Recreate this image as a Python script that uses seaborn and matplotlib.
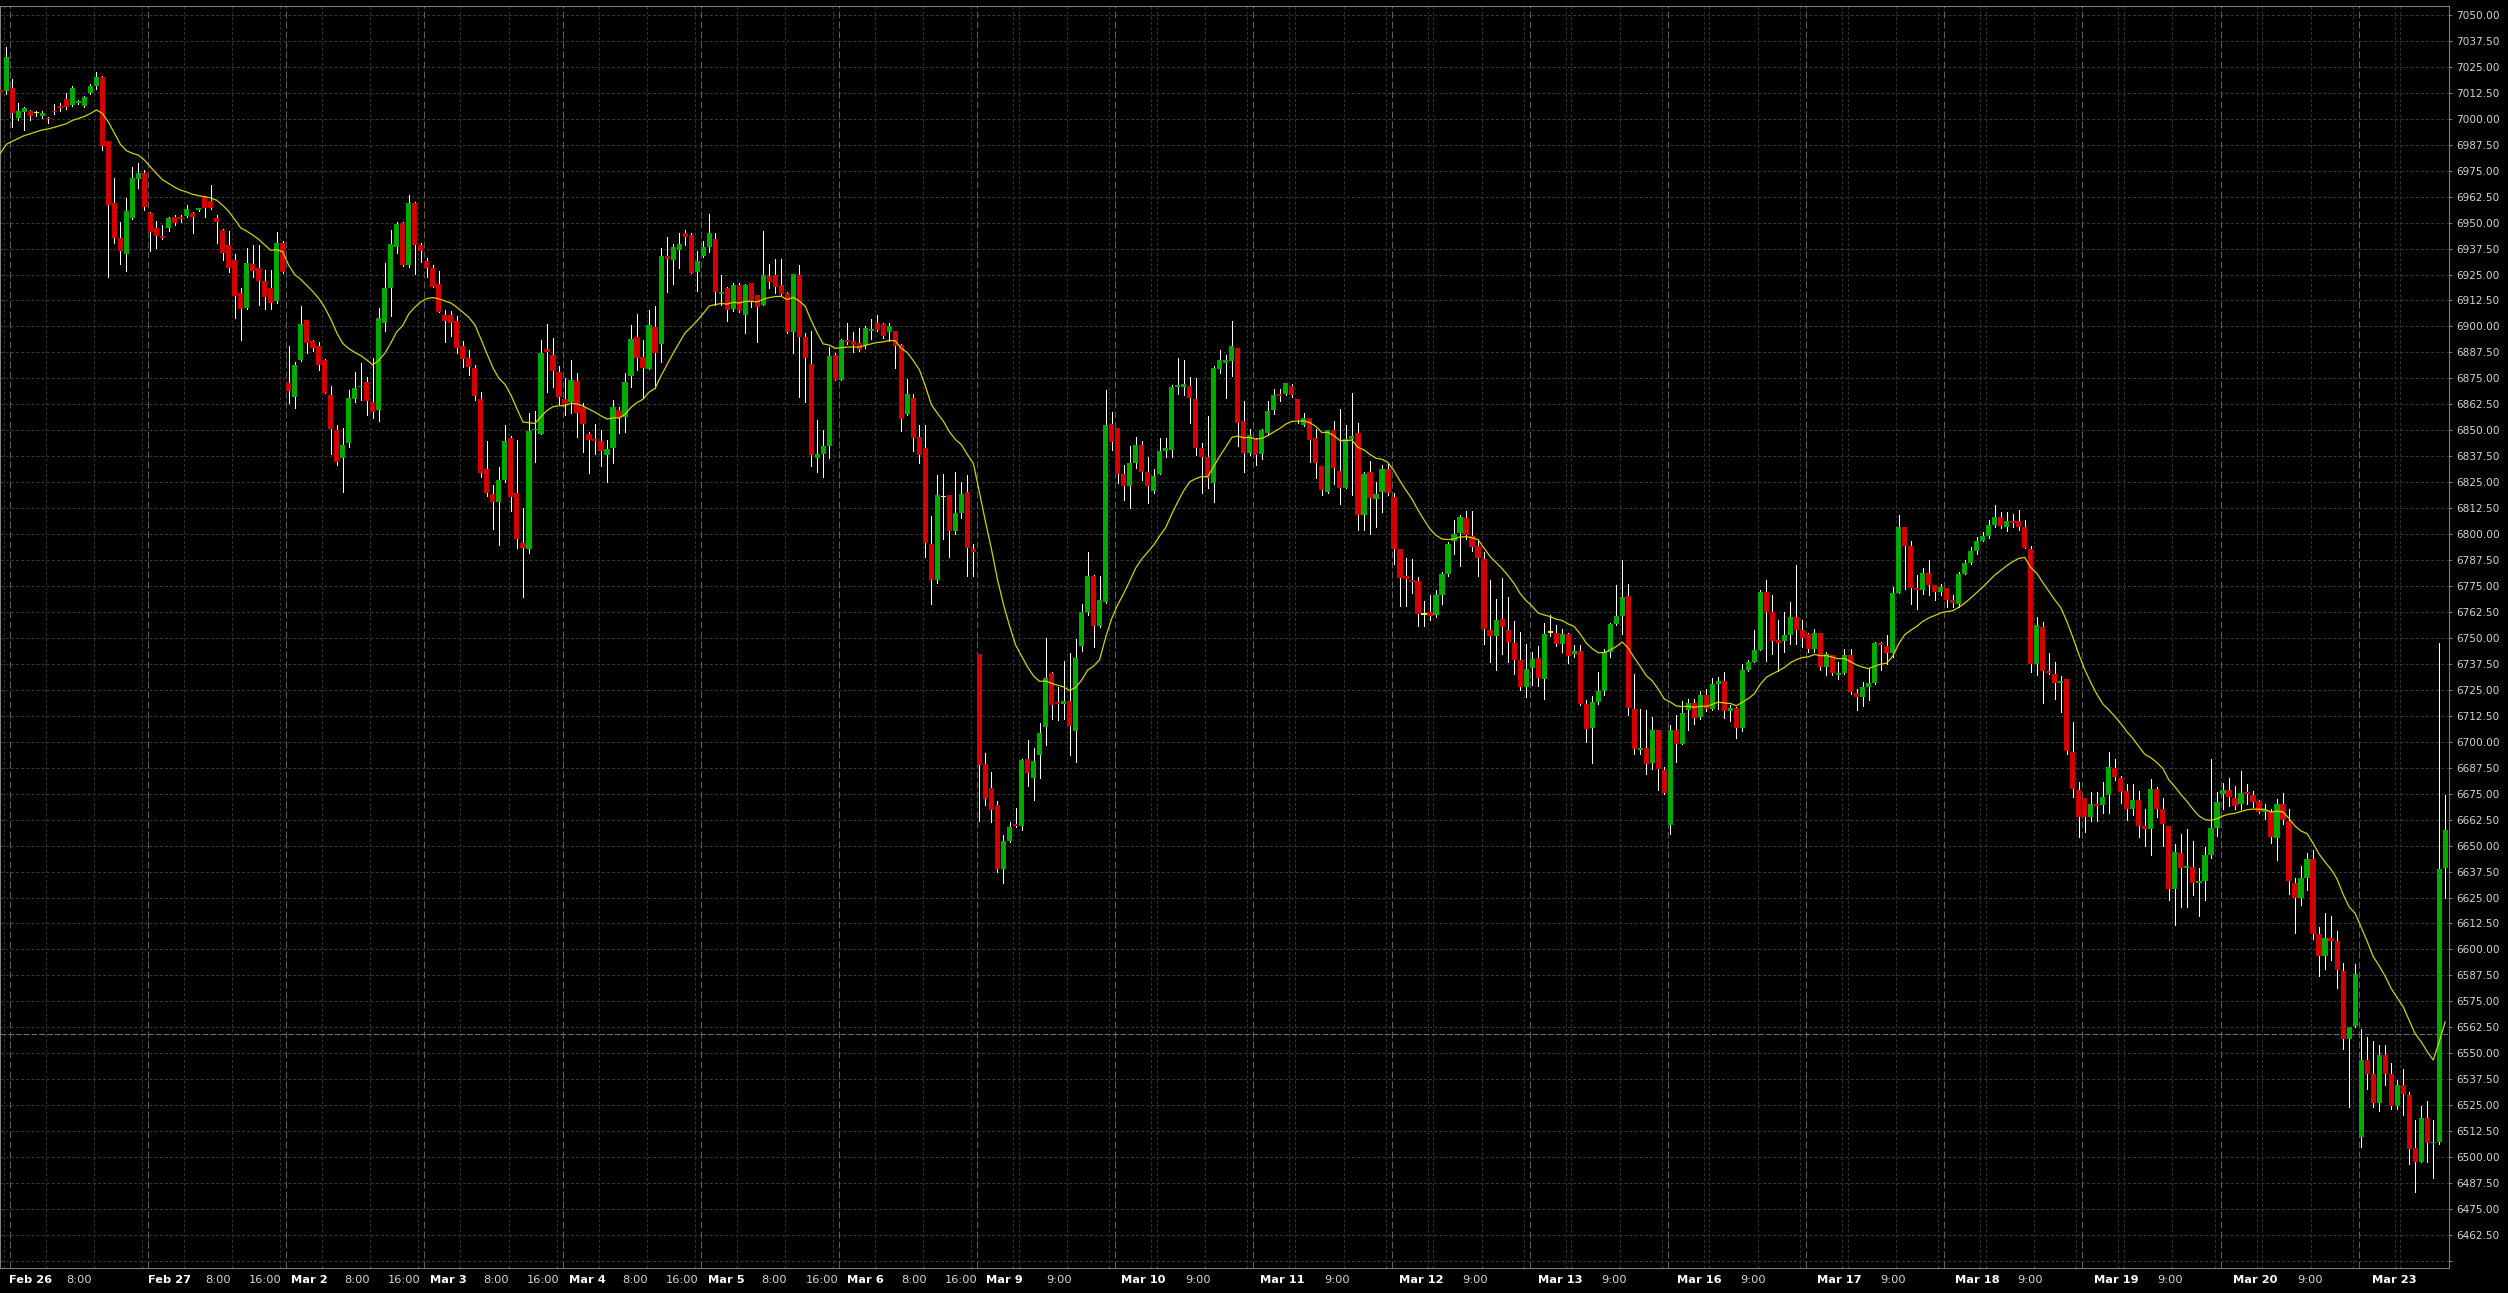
import numpy as np
import pandas as pd
import matplotlib
matplotlib.use("Agg")
import matplotlib.pyplot as plt
from matplotlib.transforms import blended_transform_factory
import seaborn as sns

# ---------------- data (hourly OHLC) ----------------
opens = [
    7013.5, 7013.3, 7015.0, 7000.4, 7003.1, 7003.5, 7003.0, 7001.2, 7000.5, 7003.8,
    7005.9, 7009.3, 7006.6, 7007.6, 7006.0, 7012.4, 7016.0, 7020.3, 6989.5, 6959.3,
    6942.8, 6934.7, 6952.2, 6970.8, 6974.1, 6954.5, 6947.6, 6943.5, 6947.4, 6952.9,
    6952.5, 6953.1, 6954.5, 6956.0, 6962.7, 6960.5, 6952.0, 6946.5, 6939.0, 6931.8,
    6915.9, 6908.9, 6929.9, 6928.0, 6921.8, 6918.7, 6912.2, 6940.4, 6873.0, 6865.9,
    6884.0, 6902.9, 6893.2, 6890.8, 6884.0, 6867.1, 6849.9, 6836.7, 6843.9, 6864.9,
    6870.7, 6873.3, 6863.7, 6859.9, 6901.7, 6918.7, 6938.1, 6950.0, 6929.5, 6959.6,
    6939.1, 6931.4, 6928.0, 6920.3, 6905.5, 6905.5, 6902.6, 6890.6, 6884.8, 6880.0,
    6865.1, 6831.4, 6819.4, 6815.5, 6826.1, 6846.5, 6820.0, 6795.9, 6792.9, 6849.9,
    6848.3, 6889.2, 6886.3, 6878.1, 6865.1, 6863.8, 6873.8, 6861.3, 6848.3, 6845.8,
    6844.9, 6838.1, 6841.7, 6859.8, 6856.3, 6876.3, 6895.1, 6885.2, 6879.7, 6899.9,
    6891.6, 6933.9, 6932.0, 6936.8, 6944.8, 6944.0, 6926.1, 6934.1, 6938.4, 6942.1,
    6915.6, 6918.7, 6908.3, 6919.8, 6905.5, 6920.8, 6915.2, 6910.4, 6924.3, 6924.8,
    6920.0, 6916.0, 6897.5, 6924.8, 6894.8, 6881.9, 6836.5, 6838.5, 6842.6, 6886.1,
    6874.4, 6893.4, 6892.9, 6891.8, 6891.2, 6897.8, 6901.5, 6901.1, 6897.1, 6897.6,
    6891.2, 6858.0, 6865.5, 6846.7, 6841.4, 6795.2, 6777.7, 6818.0, 6818.6, 6801.4,
    6810.0, 6820.2, 6792.8, 6742.4, 6689.3, 6677.8, 6669.4, 6638.9, 6652.2, 6660.6,
    6659.5, 6691.5, 6682.7, 6693.7, 6707.0, 6733.1, 6719.2, 6718.1, 6719.8, 6705.2,
    6746.3, 6762.7, 6780.0, 6755.6, 6767.4, 6852.9, 6851.1, 6829.0, 6823.1, 6834.1,
    6843.0, 6829.7, 6820.9, 6829.0, 6840.1, 6840.7, 6870.6, 6871.0, 6871.3, 6865.1,
    6841.4, 6837.0, 6824.6, 6879.4, 6882.3, 6883.4, 6889.4, 6854.7, 6839.0, 6845.9,
    6838.7, 6848.7, 6859.9, 6867.3, 6867.6, 6871.1, 6865.2, 6852.3, 6856.0, 6846.2,
    6832.6, 6820.3, 6849.9, 6830.4, 6822.2, 6846.0, 6848.8, 6809.0, 6830.0, 6816.7,
    6820.3, 6831.2, 6817.8, 6792.7, 6779.7, 6778.1, 6777.3, 6761.4, 6762.5, 6760.9,
    6770.5, 6780.6, 6796.7, 6800.7, 6807.9, 6799.1, 6794.1, 6788.2, 6754.0, 6750.9,
    6759.3, 6753.7, 6747.7, 6739.2, 6726.4, 6735.5, 6740.4, 6730.4, 6752.9, 6752.5,
    6747.2, 6752.1, 6742.4, 6743.6, 6718.0, 6706.6, 6719.2, 6724.3, 6743.2, 6756.9,
    6760.4, 6770.0, 6715.9, 6696.0, 6697.0, 6689.7, 6705.5, 6686.5, 6659.7, 6705.5,
    6699.1, 6715.1, 6718.8, 6711.9, 6722.3, 6715.9, 6727.6, 6729.1, 6714.8, 6716.4,
    6706.8, 6734.8, 6738.4, 6744.3, 6772.1, 6762.4, 6748.8, 6748.3, 6751.2, 6760.0,
    6753.9, 6751.7, 6744.5, 6752.3, 6736.0, 6741.6, 6732.3, 6733.1, 6741.6, 6723.4,
    6721.5, 6726.3, 6728.2, 6747.5, 6746.1, 6742.7, 6771.6, 6803.4, 6794.5, 6774.0,
    6773.3, 6781.2, 6775.3, 6772.1, 6774.2, 6768.4, 6766.2, 6780.9, 6786.0, 6792.1,
    6796.9, 6799.3, 6804.6, 6808.2, 6803.4, 6806.2, 6806.2, 6803.4, 6792.9, 6737.6,
    6755.5, 6734.0, 6732.8, 6728.1, 6730.4, 6695.0, 6676.9, 6673.1, 6664.0, 6670.2,
    6669.7, 6674.2, 6687.2, 6682.4, 6676.2, 6667.6, 6672.0, 6659.2, 6658.1, 6677.3,
    6667.6, 6659.6, 6629.3, 6646.4, 6639.3, 6639.7, 6632.2, 6633.0, 6645.5, 6658.7,
    6674.7, 6676.9, 6672.9, 6669.8, 6675.8, 6674.6, 6671.3, 6666.3, 6666.3, 6653.6,
    6670.2, 6661.8, 6632.2, 6624.9, 6634.4, 6643.7, 6607.2, 6596.8, 6605.7, 6603.9,
    6589.5, 6557.0, 6563.0, 6509.9, 6546.9, 6539.8, 6526.1, 6549.3, 6540.2, 6524.8,
    6534.9, 6529.8, 6504.4, 6497.8, 6518.8, 6506.6, 6507.1, 6639.3,
]
highs = [
    7018.0, 7034.7, 7019.0, 7007.4, 7005.5, 7004.0, 7003.5, 7003.5, 7001.0, 7006.9,
    7007.4, 7012.4, 7016.0, 7009.0, 7011.0, 7016.5, 7022.7, 7020.5, 6989.5, 6971.3,
    6950.5, 6961.7, 6977.0, 6978.5, 6975.1, 6955.0, 6950.8, 6949.0, 6952.5, 6953.6,
    6953.6, 6958.6, 6955.0, 6957.2, 6963.0, 6967.9, 6953.6, 6947.0, 6946.0, 6934.7,
    6918.7, 6937.8, 6939.0, 6939.0, 6927.0, 6927.0, 6945.7, 6941.0, 6890.5, 6883.1,
    6909.7, 6903.0, 6893.7, 6892.5, 6884.5, 6871.1, 6852.5, 6851.1, 6869.3, 6877.9,
    6882.6, 6875.7, 6885.0, 6908.9, 6930.4, 6946.2, 6950.2, 6950.5, 6963.1, 6960.0,
    6940.0, 6932.8, 6929.6, 6926.7, 6907.9, 6907.5, 6905.1, 6892.9, 6888.7, 6881.5,
    6868.5, 6844.9, 6823.7, 6832.5, 6852.6, 6847.0, 6845.4, 6812.8, 6858.2, 6859.3,
    6893.5, 6901.2, 6894.6, 6881.0, 6875.0, 6883.9, 6877.5, 6863.0, 6849.4, 6852.9,
    6850.2, 6845.4, 6864.6, 6861.3, 6877.5, 6900.7, 6906.0, 6893.5, 6907.9, 6909.9,
    6937.6, 6943.2, 6939.7, 6944.8, 6946.5, 6945.2, 6936.5, 6941.2, 6954.0, 6944.8,
    6924.8, 6919.2, 6920.8, 6920.8, 6920.5, 6920.8, 6915.2, 6946.0, 6929.9, 6932.3,
    6932.5, 6916.8, 6925.1, 6929.6, 6896.7, 6897.8, 6855.0, 6849.9, 6890.3, 6887.2,
    6893.8, 6901.5, 6897.1, 6899.3, 6900.4, 6903.8, 6905.3, 6901.5, 6901.5, 6897.8,
    6891.5, 6874.6, 6867.7, 6852.5, 6852.5, 6808.7, 6828.6, 6829.0, 6818.8, 6830.1,
    6825.3, 6828.6, 6795.4, 6742.5, 6694.8, 6685.6, 6671.6, 6655.0, 6661.2, 6668.3,
    6691.5, 6700.8, 6697.0, 6708.8, 6750.1, 6733.5, 6726.5, 6739.0, 6742.8, 6749.4,
    6766.2, 6791.5, 6780.2, 6780.0, 6869.5, 6858.9, 6851.3, 6833.5, 6842.3, 6846.7,
    6844.6, 6837.0, 6831.2, 6846.3, 6846.3, 6871.7, 6885.0, 6883.9, 6875.7, 6875.0,
    6844.1, 6856.7, 6881.0, 6888.7, 6886.1, 6902.7, 6889.8, 6864.1, 6850.7, 6846.5,
    6850.7, 6864.1, 6870.0, 6870.0, 6873.0, 6872.4, 6865.2, 6858.3, 6856.0, 6850.7,
    6832.6, 6850.2, 6854.7, 6860.4, 6852.3, 6868.1, 6853.6, 6829.9, 6835.0, 6825.1,
    6833.1, 6833.9, 6819.8, 6793.0, 6788.5, 6788.2, 6779.4, 6767.8, 6770.5, 6772.9,
    6781.7, 6796.2, 6806.6, 6809.0, 6811.1, 6811.1, 6797.3, 6791.4, 6778.1, 6768.9,
    6779.0, 6769.7, 6758.2, 6752.9, 6747.2, 6743.2, 6746.0, 6757.2, 6760.9, 6756.1,
    6754.5, 6752.5, 6746.7, 6746.4, 6720.0, 6721.9, 6733.6, 6744.8, 6757.2, 6775.3,
    6787.4, 6776.1, 6732.8, 6715.9, 6715.1, 6711.9, 6705.8, 6687.8, 6707.9, 6712.7,
    6719.6, 6720.7, 6720.7, 6724.4, 6725.5, 6730.8, 6731.0, 6733.5, 6717.5, 6716.7,
    6737.5, 6739.2, 6753.9, 6772.9, 6778.0, 6770.9, 6758.4, 6762.4, 6767.1, 6784.9,
    6758.4, 6752.3, 6754.4, 6752.3, 6743.0, 6741.6, 6738.4, 6744.8, 6744.8, 6725.5,
    6728.7, 6735.2, 6748.0, 6748.0, 6751.2, 6774.5, 6809.0, 6803.4, 6796.9, 6780.1,
    6783.8, 6787.3, 6775.3, 6776.1, 6774.2, 6770.5, 6781.7, 6787.3, 6794.0, 6798.5,
    6800.9, 6806.6, 6813.8, 6810.6, 6810.6, 6809.8, 6811.7, 6806.9, 6794.5, 6760.0,
    6757.6, 6742.9, 6738.4, 6731.5, 6730.4, 6709.4, 6680.8, 6673.1, 6675.8, 6675.8,
    6680.8, 6695.0, 6691.9, 6683.5, 6679.5, 6679.5, 6676.4, 6667.4, 6681.9, 6678.0,
    6673.1, 6659.6, 6650.8, 6655.4, 6658.0, 6652.1, 6639.3, 6649.2, 6691.9, 6675.8,
    6680.2, 6682.4, 6678.9, 6685.7, 6679.5, 6676.4, 6672.0, 6670.0, 6667.6, 6672.4,
    6675.1, 6667.6, 6634.4, 6640.0, 6646.4, 6648.1, 6611.0, 6617.6, 6616.1, 6608.8,
    6593.3, 6562.6, 6592.8, 6561.9, 6558.0, 6555.8, 6554.2, 6554.2, 6545.3, 6537.0,
    6542.4, 6531.4, 6518.1, 6524.8, 6527.0, 6518.1, 6747.6, 6674.6,
]
lows = [
    7010.0, 7012.1, 6996.0, 6999.5, 6994.5, 6999.5, 7001.5, 7000.5, 6998.0, 7002.5,
    7003.8, 7004.8, 7006.0, 7007.0, 7005.5, 7012.0, 7014.3, 6985.0, 6923.8, 6940.4,
    6930.0, 6926.6, 6951.5, 6966.8, 6956.2, 6936.4, 6937.8, 6942.0, 6945.9, 6948.9,
    6950.2, 6952.5, 6945.0, 6955.8, 6952.6, 6956.5, 6940.2, 6932.1, 6926.1, 6904.1,
    6893.4, 6908.4, 6924.0, 6910.3, 6908.4, 6908.4, 6911.5, 6925.7, 6863.0, 6860.7,
    6883.5, 6887.4, 6888.0, 6878.8, 6868.0, 6838.7, 6833.2, 6820.3, 6842.0, 6863.7,
    6864.5, 6857.3, 6856.0, 6854.4, 6897.7, 6904.8, 6935.5, 6929.0, 6928.7, 6925.4,
    6931.2, 6924.0, 6918.9, 6907.1, 6892.7, 6895.4, 6887.1, 6880.7, 6876.7, 6864.6,
    6827.7, 6818.4, 6802.5, 6794.8, 6825.3, 6810.9, 6793.5, 6769.9, 6791.1, 6834.9,
    6848.0, 6868.2, 6871.0, 6862.2, 6857.4, 6858.2, 6846.9, 6839.7, 6829.6, 6838.5,
    6832.8, 6825.3, 6834.4, 6848.6, 6849.1, 6871.0, 6879.1, 6865.4, 6879.4, 6870.2,
    6883.1, 6916.8, 6920.5, 6928.0, 6939.2, 6925.6, 6917.3, 6933.5, 6936.0, 6910.4,
    6910.4, 6902.8, 6907.5, 6907.0, 6897.0, 6909.5, 6892.7, 6910.4, 6918.4, 6916.3,
    6915.2, 6897.0, 6887.4, 6865.9, 6863.8, 6833.0, 6830.1, 6827.7, 6836.5, 6874.0,
    6874.0, 6891.6, 6887.8, 6888.3, 6889.5, 6893.8, 6897.6, 6894.5, 6893.2, 6879.9,
    6849.6, 6857.5, 6840.1, 6834.1, 6788.8, 6766.2, 6776.6, 6797.6, 6788.8, 6799.9,
    6807.6, 6780.0, 6780.0, 6661.7, 6669.4, 6661.2, 6637.4, 6631.8, 6651.5, 6659.0,
    6657.3, 6678.7, 6672.1, 6682.7, 6698.6, 6711.0, 6710.3, 6711.0, 6693.7, 6690.4,
    6743.5, 6761.0, 6745.7, 6755.2, 6766.8, 6840.7, 6824.6, 6816.4, 6812.7, 6831.9,
    6825.9, 6814.9, 6819.8, 6829.0, 6837.0, 6837.0, 6867.3, 6866.8, 6853.4, 6837.9,
    6819.7, 6822.4, 6815.3, 6877.5, 6865.7, 6876.1, 6842.3, 6829.9, 6837.9, 6833.4,
    6836.3, 6848.2, 6858.0, 6864.0, 6866.8, 6866.0, 6853.5, 6852.0, 6834.7, 6827.2,
    6818.6, 6819.8, 6824.0, 6814.6, 6822.2, 6818.6, 6802.1, 6801.8, 6800.2, 6803.4,
    6810.6, 6818.6, 6785.8, 6765.2, 6765.2, 6771.6, 6755.6, 6755.6, 6758.8, 6760.1,
    6766.2, 6779.8, 6790.2, 6784.6, 6797.8, 6791.8, 6779.7, 6747.2, 6738.4, 6734.4,
    6742.4, 6738.4, 6732.5, 6724.8, 6721.6, 6727.2, 6726.7, 6720.8, 6750.8, 6745.9,
    6743.2, 6737.9, 6741.0, 6717.6, 6699.9, 6689.8, 6718.4, 6722.4, 6740.8, 6756.1,
    6752.1, 6712.7, 6694.0, 6694.0, 6684.3, 6687.0, 6676.9, 6674.7, 6655.7, 6690.2,
    6698.8, 6705.8, 6708.7, 6711.1, 6714.8, 6715.1, 6716.0, 6711.6, 6710.0, 6702.0,
    6705.2, 6734.3, 6738.4, 6744.3, 6738.7, 6742.4, 6734.0, 6743.2, 6747.2, 6747.2,
    6745.6, 6743.2, 6743.2, 6734.4, 6732.0, 6732.0, 6730.4, 6732.8, 6722.8, 6715.4,
    6717.0, 6720.0, 6727.9, 6734.4, 6737.6, 6740.8, 6771.6, 6773.7, 6766.4, 6764.0,
    6771.3, 6770.8, 6768.4, 6770.5, 6764.8, 6764.8, 6764.8, 6780.6, 6785.7, 6790.2,
    6796.9, 6798.2, 6803.4, 6803.1, 6801.4, 6803.4, 6802.1, 6793.2, 6733.5, 6732.0,
    6718.6, 6732.5, 6720.7, 6714.4, 6694.1, 6673.5, 6654.3, 6656.5, 6662.0, 6662.0,
    6665.8, 6665.8, 6681.7, 6670.7, 6662.5, 6664.7, 6654.3, 6650.0, 6645.5, 6663.6,
    6649.9, 6623.8, 6611.6, 6620.5, 6620.5, 6626.0, 6616.0, 6623.8, 6644.2, 6654.8,
    6667.6, 6669.1, 6667.6, 6667.6, 6669.8, 6668.5, 6665.8, 6663.0, 6651.4, 6643.3,
    6660.3, 6626.5, 6607.9, 6621.6, 6628.7, 6605.0, 6587.3, 6590.6, 6595.0, 6581.4,
    6551.9, 6523.9, 6562.5, 6504.8, 6532.7, 6523.9, 6522.1, 6534.9, 6523.2, 6523.2,
    6520.3, 6496.7, 6483.4, 6497.5, 6497.5, 6490.0, 6506.2, 6624.9,
]
closes = [
    7013.0, 7029.6, 7003.0, 7003.5, 7005.0, 7001.2, 7003.0, 7003.0, 6999.8, 7003.1,
    7005.2, 7005.5, 7014.6, 7008.6, 7010.7, 7016.0, 7020.3, 6986.8, 6958.4, 6942.8,
    6936.2, 6955.8, 6971.3, 6974.1, 6957.4, 6945.3, 6943.5, 6942.6, 6952.0, 6950.0,
    6951.9, 6956.7, 6952.6, 6956.9, 6957.0, 6957.0, 6950.2, 6935.5, 6928.2, 6914.6,
    6908.5, 6930.7, 6926.6, 6921.8, 6914.2, 6911.5, 6940.0, 6926.4, 6868.8, 6881.2,
    6901.0, 6892.2, 6889.5, 6881.4, 6868.0, 6850.4, 6834.6, 6843.0, 6865.4, 6870.2,
    6871.4, 6863.9, 6858.7, 6904.3, 6918.7, 6939.5, 6949.1, 6929.5, 6959.3, 6939.3,
    6936.5, 6928.0, 6918.9, 6907.1, 6902.8, 6901.8, 6889.8, 6884.5, 6880.7, 6866.7,
    6829.3, 6820.0, 6815.5, 6826.1, 6844.9, 6818.1, 6797.5, 6793.5, 6849.7, 6850.7,
    6887.4, 6887.7, 6878.6, 6866.2, 6862.5, 6874.2, 6858.5, 6853.2, 6845.4, 6844.6,
    6840.2, 6841.0, 6861.3, 6855.8, 6873.4, 6894.0, 6885.0, 6880.2, 6900.7, 6887.4,
    6934.1, 6932.5, 6938.4, 6939.7, 6943.2, 6925.9, 6931.7, 6938.4, 6945.2, 6916.8,
    6916.4, 6907.9, 6920.0, 6907.5, 6920.0, 6912.0, 6909.5, 6924.8, 6921.6, 6919.2,
    6915.6, 6897.5, 6925.1, 6895.1, 6885.0, 6838.1, 6838.6, 6842.6, 6885.8, 6874.4,
    6893.4, 6892.3, 6891.2, 6888.7, 6899.3, 6898.7, 6898.2, 6895.6, 6900.0, 6890.5,
    6855.6, 6867.7, 6846.3, 6837.9, 6795.9, 6777.7, 6818.6, 6818.0, 6801.4, 6810.0,
    6819.1, 6793.2, 6791.5, 6688.9, 6672.3, 6667.2, 6638.9, 6652.2, 6658.8, 6659.5,
    6691.1, 6684.9, 6690.9, 6704.1, 6730.9, 6717.6, 6718.1, 6719.6, 6707.7, 6740.2,
    6762.7, 6780.0, 6755.6, 6768.5, 6852.5, 6844.5, 6829.0, 6823.1, 6834.1, 6843.0,
    6829.7, 6823.1, 6827.9, 6840.1, 6841.4, 6870.6, 6871.7, 6872.4, 6865.7, 6841.4,
    6837.0, 6826.8, 6880.1, 6883.9, 6883.9, 6890.5, 6853.4, 6839.0, 6847.8, 6837.9,
    6849.9, 6859.1, 6867.1, 6866.5, 6873.0, 6866.8, 6855.1, 6856.0, 6845.4, 6834.2,
    6821.4, 6849.9, 6832.0, 6822.2, 6845.9, 6847.0, 6809.0, 6828.8, 6817.4, 6819.1,
    6831.2, 6819.9, 6792.8, 6779.0, 6778.4, 6776.8, 6761.7, 6761.4, 6760.7, 6770.5,
    6780.6, 6795.1, 6800.2, 6808.2, 6799.4, 6793.8, 6788.6, 6754.5, 6750.9, 6758.8,
    6755.3, 6748.0, 6739.5, 6726.4, 6735.2, 6740.0, 6730.7, 6752.1, 6752.9, 6747.2,
    6752.1, 6741.1, 6743.6, 6718.4, 6706.0, 6719.2, 6724.3, 6743.2, 6756.9, 6760.4,
    6769.7, 6716.4, 6696.7, 6697.0, 6689.4, 6705.5, 6687.0, 6675.3, 6705.8, 6699.1,
    6714.0, 6718.8, 6711.6, 6722.3, 6715.9, 6727.6, 6729.1, 6714.8, 6716.4, 6706.8,
    6734.8, 6738.4, 6744.3, 6772.1, 6762.4, 6748.3, 6747.8, 6751.2, 6760.0, 6753.9,
    6749.9, 6744.5, 6752.3, 6736.0, 6742.1, 6733.1, 6733.1, 6741.6, 6724.0, 6721.5,
    6726.3, 6728.2, 6747.5, 6746.4, 6742.7, 6771.6, 6803.4, 6794.2, 6774.0, 6772.9,
    6781.2, 6775.3, 6772.1, 6774.5, 6768.4, 6766.8, 6780.6, 6786.0, 6792.1, 6796.9,
    6799.3, 6804.6, 6808.2, 6803.7, 6806.2, 6805.3, 6803.4, 6793.2, 6737.6, 6756.0,
    6734.0, 6733.1, 6728.2, 6729.5, 6695.7, 6677.3, 6664.0, 6664.0, 6670.2, 6669.3,
    6673.5, 6687.9, 6682.8, 6675.8, 6667.6, 6672.0, 6659.2, 6658.1, 6677.3, 6667.6,
    6660.3, 6629.3, 6647.0, 6639.3, 6640.0, 6632.2, 6633.0, 6645.5, 6658.7, 6670.9,
    6676.9, 6673.5, 6669.1, 6675.1, 6674.7, 6671.1, 6666.3, 6667.0, 6654.3, 6670.2,
    6662.5, 6633.1, 6624.9, 6634.4, 6643.7, 6607.2, 6596.8, 6605.7, 6604.3, 6590.2,
    6557.0, 6562.6, 6588.4, 6546.9, 6540.2, 6526.1, 6549.3, 6540.2, 6524.8, 6534.9,
    6530.5, 6503.9, 6497.8, 6518.8, 6506.6, 6507.5, 6638.8, 6657.4,
]

# moving average (EMA) - its value at the first bar
ema_seed = 6983.3
ema_span = 20

# x-axis labels and their bar positions
x_label_text = ["Feb 26", "8:00", "Feb 27", "8:00", "16:00", "Mar 2", "8:00", "16:00",
                "Mar 3", "8:00", "16:00", "Mar 4", "8:00", "16:00", "Mar 5", "8:00",
                "16:00", "Mar 6", "8:00", "16:00", "Mar 9", "9:00", "Mar 10", "9:00",
                "Mar 11", "9:00", "Mar 12", "9:00", "Mar 13", "9:00", "Mar 16", "9:00",
                "Mar 17", "9:00", "Mar 18", "9:00", "Mar 19", "9:00", "Mar 20", "9:00",
                "Mar 23"]
x_label_pos = [1.48, 10.98, 24.58, 34.17, 41.40, 48.36, 57.21, 64.50, 71.46, 80.47,
               87.68, 94.67, 103.56, 110.78, 117.76, 126.75, 134.02, 140.95, 149.90,
               157.21, 164.09, 174.18, 186.54, 197.28, 209.63, 220.47, 232.82, 243.37,
               255.93, 266.46, 279.18, 289.65, 302.40, 312.87, 325.44, 335.83, 348.58,
               359.07, 371.72, 382.29, 394.87]

bars_per_day = 23
first_day_bar = 2
n_days = 18
dst_day = 7          # first day after the clock change
price_marker = 6559.5

# ---------------- style ----------------
sns.set_theme(style="dark", rc={"axes.facecolor": "#000000",
                                "figure.facecolor": "#000000"})
plt.rcParams["font.family"] = ["DejaVu Sans"]
plt.rcParams["lines.scale_dashes"] = False

UP = "#00aa00"
DOWN = "#d40000"
FLAT = "#ffff00"
MA_COL = "#d2d200"

df = pd.DataFrame({"o": opens, "h": highs, "l": lows, "c": closes})
n = len(df)
df["idx"] = np.arange(n)

# EMA
alpha = 2.0 / (ema_span + 1)
ema = [ema_seed]
for c in df["c"].values[1:]:
    ema.append(ema[-1] + alpha * (c - ema[-1]))
df["ema"] = ema

fig = plt.figure(figsize=(25.08, 12.93), dpi=100, facecolor="#000000")
ax = fig.add_axes([0.0, 1 - 1268 / 1293, 2449 / 2508, 1262 / 1293])
ax.set_facecolor("#000000")

ymin, ymax = 6446.6, 7054.3
ax.set_xlim(-0.05, 407.63)
ax.set_ylim(ymin, ymax)

# horizontal grid
yticks = np.arange(6450.0, 7050.01, 12.5)
for y in yticks:
    ax.axhline(y, color="#363636", lw=0.75, ls=(0, (2.2, 1.5)), zorder=0.5)

# vertical grid
for d in range(n_days):
    s = first_day_bar + bars_per_day * d
    ax.axvline(s - 0.4, color="#5e5e5e", lw=0.75, ls=(0, (5.0, 2.2)), zorder=0.6)
    minors = [s - 1.4, s + 5.6, s + 13.6] if d < dst_day else [s - 1.4, s + 5.6, s + 6.5, s + 14.6]
    for m in minors:
        if -0.05 < m < 407.6:
            ax.axvline(m, color="#303030", lw=0.75, ls=(0, (2.2, 1.5)), zorder=0.5)

ax.axhline(price_marker, color="#707070", lw=0.75, ls=(0, (4.0, 1.6)), zorder=0.7)

# candles
o = df["o"].values
c = df["c"].values
colors = np.where(c > o, UP, np.where(c < o, DOWN, FLAT))
bottom = np.minimum(o, c)
height = np.abs(c - o)
min_h = 0.75
bottom = np.where(height < min_h, (o + c) / 2 - min_h / 2, bottom)
height = np.maximum(height, min_h)

ax.vlines(df["idx"], df["l"], df["h"], color="white", lw=0.72, zorder=2,
          antialiased=False)
ax.bar(df["idx"], height, bottom=bottom, width=0.86, color=colors,
       linewidth=0, zorder=3, antialiased=False)

# moving average
sns.lineplot(x=df["idx"].values, y=df["ema"].values, ax=ax, color=MA_COL,
             linewidth=0.9, zorder=4)

# axes styling
for sp in ax.spines.values():
    sp.set_color("#808080")
    sp.set_linewidth(0.75)
    sp.set_visible(True)

ax.set_yticks(yticks)
ax.set_yticklabels(["" if abs(v - 6450.0) < 1e-6 else f"{v:.2f}" for v in yticks])
ax.yaxis.tick_right()
ax.tick_params(axis="y", which="both", direction="out", length=2.5, width=0.75,
               color="#808080", pad=2.5, labelsize=7.6, labelcolor="#d4d4d4",
               right=True, left=False)
ax.tick_params(axis="x", bottom=False, labelbottom=False)
ax.set_xticks([])
ax.set_xlabel("")
ax.set_ylabel("")
ax.grid(False)

trans = blended_transform_factory(ax.transData, ax.transAxes)
base_y = -(1283 - 1268) / 1262
for txt, pos in zip(x_label_text, x_label_pos):
    is_date = txt[0].isalpha()
    ax.text(pos, base_y, txt, transform=trans, ha="left", va="baseline",
            fontsize=8.2, fontweight="bold" if is_date else "normal",
            color="#ffffff" if is_date else "#d8d8d8", clip_on=False)

fig.savefig("out.png", dpi=100, facecolor="#000000")
